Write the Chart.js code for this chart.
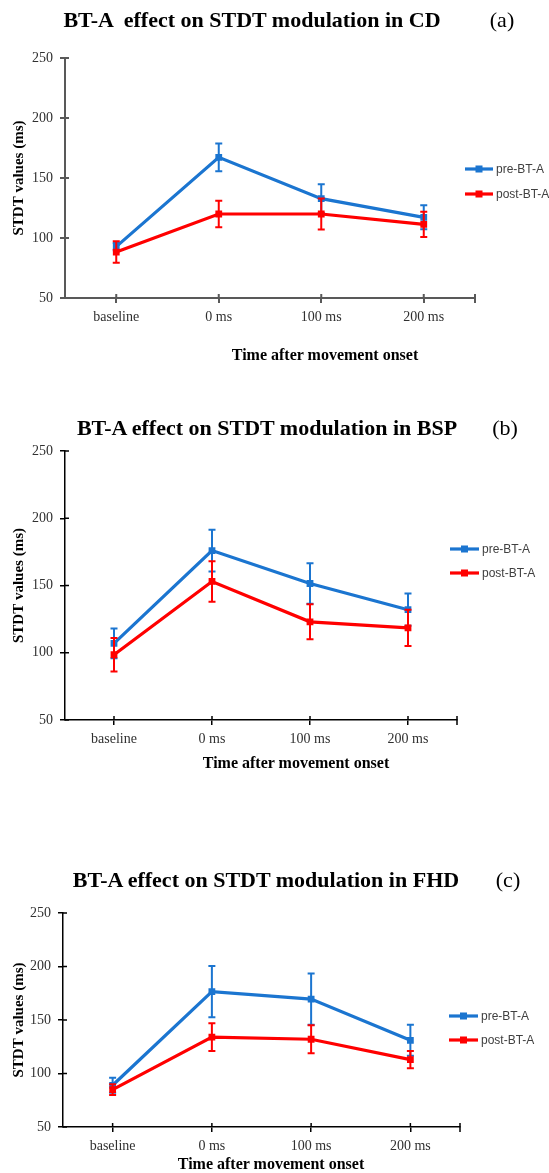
<!DOCTYPE html>
<html><head><meta charset="utf-8">
<script src="https://cdn.jsdelivr.net/npm/chart.js@4/dist/chart.umd.min.js"></script>
<style>
html,body{margin:0;padding:0;background:#fff;}
body{width:549px;height:1173px;position:relative;overflow:hidden;}
canvas{position:absolute;left:0;}
.t{position:absolute;white-space:pre;transform:translate(-50%,-50%);line-height:1;font-family:"Liberation Serif",serif;color:#000;}
.h{font-size:22px;font-weight:bold;}
.p{font-size:22px;}
.xt{font-size:16px;font-weight:bold;}
</style></head><body>
<canvas id="ca" width="549" height="380" style="top:0px"></canvas>
<canvas id="cb" width="549" height="420" style="top:380px"></canvas>
<canvas id="cc" width="549" height="373" style="top:800px"></canvas>
<div class="t h" style="left:252px;top:20px">BT-A  effect on STDT modulation in CD</div>
<div class="t p" style="left:502px;top:20px">(a)</div>
<div class="t xt" style="left:325px;top:355px">Time after movement onset</div>
<div class="t h" style="left:267px;top:428px">BT-A effect on STDT modulation in BSP</div>
<div class="t p" style="left:505px;top:428px">(b)</div>
<div class="t xt" style="left:296px;top:763px">Time after movement onset</div>
<div class="t h" style="left:266px;top:880px">BT-A effect on STDT modulation in FHD</div>
<div class="t p" style="left:508px;top:880px">(c)</div>
<div class="t xt" style="left:271px;top:1164px">Time after movement onset</div>
<script>
// ---- data ----
const categories = ['baseline', '0 ms', '100 ms', '200 ms'];
const seriesNames = ['pre-BT-A', 'post-BT-A'];
const yTicks = [50, 100, 150, 200, 250];
const yAxisTitle = 'STDT values (ms)';

const preCD = [92.8, 167.2, 132.8, 117.2];
const preCDErr = [3, 11.5, 12, 10];
const postCD = [88.3, 120, 120, 111.4];
const postCDErr = [9, 11, 13, 10.5];

const preBSP = [107, 176, 151.5, 132];
const preBSPErr = [11, 15.5, 15, 12];
const postBSP = [98.5, 153, 123, 118.5];
const postBSPErr = [12.5, 15, 13, 13.5];

const preFHD = [89, 176.5, 169.5, 131];
const preFHDErr = [7, 24, 24, 14.5];
const postFHD = [85, 134, 132, 113];
const postFHDErr = [5, 13, 13, 8];

const BLUE = '#1B75D0', RED = '#FF0000';

// ---- plugins ----
const errPlugin = {
  id: 'errbars',
  afterDatasetDraw(chart, args) {
    const ds = chart.data.datasets[args.index];
    const errs = ds.errors; if (!errs) return;
    const ys = chart.scales.y, ctx = chart.ctx;
    ctx.save();
    ctx.strokeStyle = ds.borderColor; ctx.lineWidth = 2;
    args.meta.data.forEach((pt, i) => {
      const v = ds.data[i], e = errs[i];
      const yt = ys.getPixelForValue(v + e), yb = ys.getPixelForValue(v - e);
      ctx.beginPath();
      ctx.moveTo(pt.x, yt); ctx.lineTo(pt.x, yb);
      ctx.moveTo(pt.x - 3.5, yt); ctx.lineTo(pt.x + 3.5, yt);
      ctx.moveTo(pt.x - 3.5, yb); ctx.lineTo(pt.x + 3.5, yb);
      ctx.stroke();
    });
    ctx.restore();
  }
};
const legendPlugin = {
  id: 'sideLegend',
  afterDraw(chart, args, o) {
    const ctx = chart.ctx;
    chart.data.datasets.forEach((ds, i) => {
      const y = o.ys[i];
      ctx.save();
      ctx.strokeStyle = ds.borderColor; ctx.lineWidth = ds.borderWidth;
      ctx.beginPath(); ctx.moveTo(o.x1, y); ctx.lineTo(o.x2, y); ctx.stroke();
      ctx.fillStyle = ds.borderColor;
      ctx.fillRect((o.x1 + o.x2) / 2 - 3.5, y - 3.5, 7, 7);
      ctx.fillStyle = '#404040';
      ctx.font = '12px "Liberation Sans", Arial, sans-serif';
      ctx.textBaseline = 'middle';
      ctx.fillText(ds.label, o.textX, y + 0.5);
      ctx.restore();
    });
  }
};
const innerTicks = {
  id: 'innerTicks',
  afterDraw(chart, args, o) {
    const ctx = chart.ctx, a = chart.chartArea;
    const xs = chart.scales.x, ys = chart.scales.y;
    ctx.save();
    ctx.strokeStyle = o.color; ctx.lineWidth = o.width;
    ctx.beginPath();
    xs.ticks.forEach((t, i) => { const x = xs.getPixelForTick(i); ctx.moveTo(x, a.bottom); ctx.lineTo(x, a.bottom - 4); });
    ctx.moveTo(a.right, a.bottom + 5); ctx.lineTo(a.right, a.bottom - 4);
    ys.ticks.forEach((t, i) => { const y = ys.getPixelForTick(i); ctx.moveTo(a.left, y); ctx.lineTo(a.left + 4, y); });
    ctx.stroke();
    ctx.restore();
  }
};

function makeChart(id, canvasTop, canvasH, area, pre, preErr, post, postErr, leg, axisColor, axisWidth) {
  const ctx = document.getElementById(id);
  return new Chart(ctx, {
    type: 'line',
    data: {
      labels: categories,
      datasets: [
        { label: seriesNames[0], data: pre, errors: preErr, borderColor: BLUE, backgroundColor: BLUE,
          borderWidth: 3.2, pointStyle: 'rect', pointRadius: 4.8, pointBorderWidth: 0, order: 2, tension: 0 },
        { label: seriesNames[1], data: post, errors: postErr, borderColor: RED, backgroundColor: RED,
          borderWidth: 3.2, pointStyle: 'rect', pointRadius: 4.8, pointBorderWidth: 0, order: 1, tension: 0 }
      ]
    },
    options: {
      responsive: false, animation: false, devicePixelRatio: 1,
      layout: { padding: { top: area.top - canvasTop, left: 0, right: 549 - area.right, bottom: 0 } },
      plugins: {
        legend: { display: false }, tooltip: { enabled: false }, title: { display: false },
        sideLegend: { x1: leg.x1, x2: leg.x2, textX: leg.textX, ys: leg.ys.map(v => v - canvasTop) },
        innerTicks: { color: axisColor, width: axisWidth }
      },
      scales: {
        x: {
          type: 'category', offset: true,
          grid: { offset: false, drawOnChartArea: false, drawTicks: true, tickLength: 5, color: axisColor, lineWidth: axisWidth },
          border: { display: true, color: axisColor, width: axisWidth },
          ticks: { color: '#303030', padding: 6, font: { family: '"Liberation Serif", serif', size: 14 }, maxRotation: 0, autoSkip: false },
          afterFit(s) { s.height = canvasTop + canvasH - area.bottom; }
        },
        y: {
          min: yTicks[0], max: yTicks[yTicks.length - 1],
          afterBuildTicks(s) { s.ticks = yTicks.map(v => ({ value: v })); },
          grid: { drawOnChartArea: false, drawTicks: true, tickLength: 5, color: axisColor, lineWidth: axisWidth },
          border: { display: true, color: axisColor, width: axisWidth },
          ticks: { color: '#303030', padding: 7, font: { family: '"Liberation Serif", serif', size: 14 } },
          title: { display: true, text: yAxisTitle, color: '#000', padding: { top: 10, bottom: 0 },
                   font: { family: '"Liberation Serif", serif', size: 15, weight: 'bold' } },
          afterFit(s) { s.width = area.left; }
        }
      }
    },
    plugins: [errPlugin, legendPlugin, innerTicks]
  });
}

makeChart('ca', 0, 380, { top: 58, bottom: 298, left: 65, right: 475 },
  preCD, preCDErr, postCD, postCDErr, { x1: 465, x2: 493, textX: 496, ys: [169, 194] }, '#595959', 2);
makeChart('cb', 380, 420, { top: 451, bottom: 720, left: 65, right: 457 },
  preBSP, preBSPErr, postBSP, postBSPErr, { x1: 450, x2: 479, textX: 482, ys: [549, 573] }, '#000000', 1.5);
makeChart('cc', 800, 373, { top: 913, bottom: 1127, left: 63, right: 460 },
  preFHD, preFHDErr, postFHD, postFHDErr, { x1: 449, x2: 478, textX: 481, ys: [1016, 1040] }, '#000000', 1.5);
</script>
</body></html>
